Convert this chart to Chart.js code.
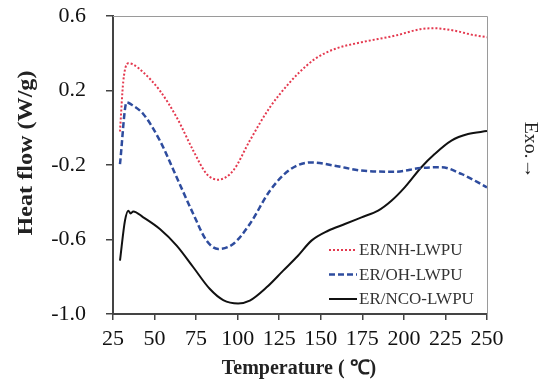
<!DOCTYPE html>
<html>
<head>
<meta charset="utf-8">
<script src="https://cdn.jsdelivr.net/npm/chart.js@4/dist/chart.umd.min.js"></script>
<style>
  html, body { margin: 0; padding: 0; background: #fff; }
  #wrap { width: 548px; height: 390px; position: relative; }
</style>
</head>
<body>
<div id="wrap"><canvas id="c"></canvas></div>
<script>
// ---- data ----
const seriesNames = ['ER/NH-LWPU', 'ER/OH-LWPU', 'ER/NCO-LWPU'];

const nhTemp = [29.2, 31.2, 34.2, 37, 43.2, 53.2, 63.3, 73.3, 81.3, 88.3, 97.3, 107.3, 119.4, 131.4, 137.4, 146.4, 158.4, 174.5, 194.5, 210.5, 218.5, 230.6, 240.6, 250];
const nhFlow = [-0.02, 0.25, 0.346, 0.34, 0.298, 0.199, 0.056, -0.123, -0.248, -0.279, -0.230, -0.069, 0.110, 0.244, 0.300, 0.369, 0.423, 0.459, 0.494, 0.530, 0.534, 0.521, 0.500, 0.486];

const ohTemp = [29.2, 33.2, 36, 43.2, 53.2, 63.3, 73.3, 81.3, 88.3, 97.3, 107.3, 119.4, 131.4, 144.4, 158.4, 174.5, 194.5, 210.5, 222.6, 234.6, 250];
const ohFlow = [-0.195, 0.136, 0.125, 0.074, -0.069, -0.266, -0.463, -0.606, -0.651, -0.624, -0.517, -0.338, -0.225, -0.186, -0.204, -0.230, -0.236, -0.216, -0.212, -0.248, -0.32];

const ncoTemp = [29.2, 32.2, 34.2, 35.6, 37.2, 43.2, 53.2, 63.3, 73.3, 83.3, 91.3, 100.3, 107.3, 117.4, 127.4, 136, 144.4, 154.4, 164.5, 174.5, 184.5, 192.5, 200.5, 210.5, 218.5, 228.6, 238.6, 250];
const ncoFlow = [-0.714, -0.499, -0.445, -0.46, -0.449, -0.481, -0.544, -0.633, -0.749, -0.866, -0.925, -0.943, -0.928, -0.857, -0.767, -0.69, -0.606, -0.553, -0.517, -0.481, -0.445, -0.392, -0.320, -0.212, -0.141, -0.069, -0.034, -0.018];

const xTicks = [25, 50, 75, 100, 125, 150, 175, 200, 225, 250];
const yTicks = [-1.0, -0.6, -0.2, 0.2, 0.6];

const xTitle = 'Temperature ( \u2103)';
const yTitle = 'Heat flow (W/g)';
const sideNote = 'Exo.\u2192';

// ---- build ----
function pts(xs, ys) { return xs.map((x, i) => ({ x: x, y: ys[i] })); }

const SERIF = '"Liberation Serif", "Times New Roman", serif';

const datasets = [
  { label: seriesNames[0], data: pts(nhTemp, nhFlow), borderColor: '#e4394f', borderWidth: 2, borderDash: [2, 2] },
  { label: seriesNames[1], data: pts(ohTemp, ohFlow), borderColor: '#2e4c9e', borderWidth: 2.5, borderDash: [6, 3] },
  { label: seriesNames[2], data: pts(ncoTemp, ncoFlow), borderColor: '#111111', borderWidth: 2, borderDash: [] }
].map(d => Object.assign(d, { pointRadius: 0, fill: false, cubicInterpolationMode: 'monotone' }));

const decor = {
  id: 'decor',
  afterDraw(chart) {
    const ctx = chart.ctx;
    const a = chart.chartArea;
    ctx.save();
    // thin frame on top and right
    ctx.strokeStyle = '#9a9a9a';
    ctx.lineWidth = 1;
    ctx.beginPath();
    ctx.moveTo(a.left, a.top + 0.5);
    ctx.lineTo(a.right + 0.5, a.top + 0.5);
    ctx.lineTo(a.right + 0.5, a.bottom);
    ctx.stroke();

    // legend inside plot
    const rows = [250, 274.5, 299];
    chart.data.datasets.forEach((ds, i) => {
      const y = rows[i];
      ctx.strokeStyle = ds.borderColor;
      ctx.lineWidth = ds.borderWidth;
      ctx.setLineDash(ds.borderDash || []);
      ctx.beginPath();
      ctx.moveTo(329, y);
      ctx.lineTo(357, y);
      ctx.stroke();
      ctx.setLineDash([]);
      ctx.fillStyle = '#333';
      ctx.font = '17px ' + SERIF;
      ctx.textAlign = 'left';
      ctx.textBaseline = 'middle';
      ctx.fillText(ds.label, 359, y + 1);
    });

    // axis titles
    ctx.fillStyle = '#222';
    ctx.font = 'bold 20px ' + SERIF;
    ctx.textAlign = 'center';
    ctx.textBaseline = 'middle';
    ctx.fillText(xTitle, 299, 369);

    ctx.save();
    ctx.translate(27, 153);
    ctx.rotate(-Math.PI / 2);
    ctx.scale(1.15, 1);
    ctx.font = 'bold 21px ' + SERIF;
    ctx.fillText(yTitle, 0, 0);
    ctx.restore();

    ctx.save();
    ctx.translate(530, 150);
    ctx.rotate(Math.PI / 2);
    ctx.scale(1.1, 1);
    ctx.font = '18px ' + SERIF;
    ctx.fillStyle = '#222';
    ctx.fillText(sideNote, 0, 0);
    ctx.restore();

    ctx.restore();
  }
};

new Chart(document.getElementById('c'), {
  type: 'line',
  data: { datasets: datasets },
  options: {
    responsive: true,
    maintainAspectRatio: false,
    animation: false,
    layout: { padding: { left: 0, right: 61, top: 16, bottom: 0 } },
    plugins: { legend: { display: false }, tooltip: { enabled: false } },
    scales: {
      x: {
        type: 'linear',
        min: xTicks[0],
        max: xTicks[xTicks.length - 1],
        afterBuildTicks(s) { s.ticks = xTicks.map(v => ({ value: v })); },
        afterFit(s) { s.height = 76; s.paddingLeft = 0; s.paddingRight = 0; },
        ticks: { font: { family: SERIF, size: 22 }, color: '#111', padding: 6, maxRotation: 0, autoSkip: false },
        grid: { drawOnChartArea: false, drawTicks: true, tickLength: 6, color: '#444', lineWidth: 1.5 },
        border: { color: '#444', width: 2 }
      },
      y: {
        type: 'linear',
        min: yTicks[0],
        max: yTicks[yTicks.length - 1],
        afterBuildTicks(s) { s.ticks = yTicks.map(v => ({ value: v })); },
        afterFit(s) { s.width = 113; s.paddingTop = 0; s.paddingBottom = 0; },
        ticks: { font: { family: SERIF, size: 22 }, color: '#111', padding: 20, callback: v => v.toFixed(1) },
        grid: { drawOnChartArea: false, drawTicks: true, tickLength: 7, color: '#444', lineWidth: 1.5 },
        border: { color: '#444', width: 2 }
      }
    }
  },
  plugins: [decor]
});
</script>
</body>
</html>
